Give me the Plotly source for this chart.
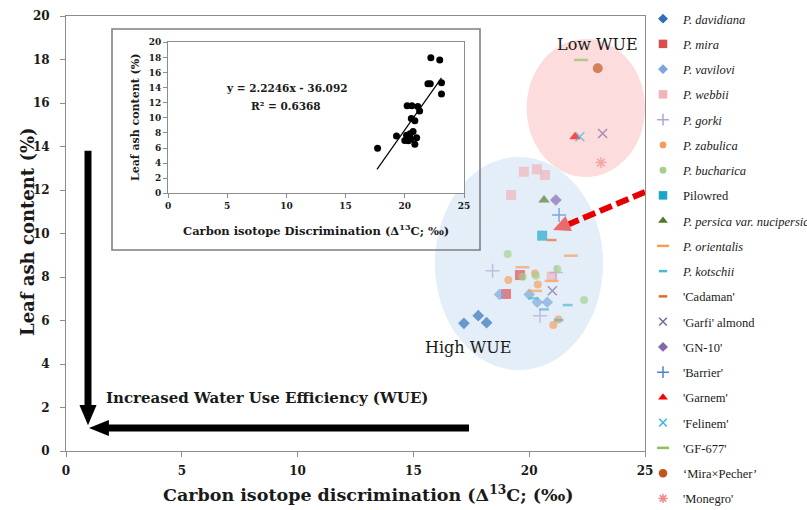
import plotly.graph_objects as go

# ---------------- data ----------------
davidiana_x = [17.18, 17.80, 18.16]
davidiana_y = [5.87, 6.22, 5.90]
mira_x = [19.60, 19.00]
mira_y = [8.09, 7.22]
vavilovi_x = [18.72, 20.00, 20.35, 20.78]
vavilovi_y = [7.20, 7.20, 6.84, 6.84]
webbii_x = [19.77, 20.33, 20.68, 19.22, 20.97]
webbii_y = [12.84, 12.95, 12.69, 11.77, 8.01]
gorki_x = [18.42, 20.47, 21.16]
gorki_y = [8.29, 6.22, 8.21]
zabulica_x = [19.10, 20.25, 20.37, 21.04, 21.26]
zabulica_y = [7.86, 8.16, 7.66, 5.79, 6.05]
bucharica_x = [19.07, 21.21, 19.72, 20.29, 22.37]
bucharica_y = [9.06, 8.37, 8.01, 8.06, 6.94]
pilowred_x = [20.56]
pilowred_y = [9.90]
nucipersica_x = [20.64]
nucipersica_y = [11.54]
orientalis_x = [21.80, 19.71, 20.25, 20.97]
orientalis_y = [8.98, 8.45, 7.36, 7.82]
kotschii_x = [20.64, 21.66, 21.27, 20.18]
kotschii_y = [6.51, 6.71, 6.02, 7.02]
cadaman_x = [20.97]
cadaman_y = [9.70]
garfi_x = [21.00, 23.17]
garfi_y = [7.37, 14.60]
gn10_x = [21.15]
gn10_y = [11.54]
barrier_x = [21.29]
barrier_y = [10.85]
garnem_x = [21.98]
garnem_y = [14.45]
felinem_x = [22.19]
felinem_y = [14.45]
gf677_x = [22.24]
gf677_y = [17.98]
mirapecher_x = [22.96]
mirapecher_y = [17.60]
monegro_x = [23.10]
monegro_y = [13.26]

series_names = [
    "<i>P. davidiana</i>", "<i>P. mira</i>", "<i>P. vavilovi</i>", "<i>P. webbii</i>",
    "<i>P. gorki</i>", "<i>P. zabulica</i>", "<i>P. bucharica</i>", "Pilowred",
    "<i>P. persica var. nucipersica</i>", "<i>P. orientalis</i>", "<i>P. kotschii</i>",
    "'Cadaman'", "'Garfi' almond", "'GN-10'", "'Barrier'", "'Garnem'", "'Felinem'",
    "'GF-677'", "\u2018Mira\u00d7Pecher\u2019", "'Monegro'",
]
series_x = [davidiana_x, mira_x, vavilovi_x, webbii_x, gorki_x, zabulica_x, bucharica_x,
            pilowred_x, nucipersica_x, orientalis_x, kotschii_x, cadaman_x, garfi_x, gn10_x,
            barrier_x, garnem_x, felinem_x, gf677_x, mirapecher_x, monegro_x]
series_y = [davidiana_y, mira_y, vavilovi_y, webbii_y, gorki_y, zabulica_y, bucharica_y,
            pilowred_y, nucipersica_y, orientalis_y, kotschii_y, cadaman_y, garfi_y, gn10_y,
            barrier_y, garnem_y, felinem_y, gf677_y, mirapecher_y, monegro_y]

# inset (means) data
inset_x = [17.7, 19.3, 20.0, 20.2, 20.6, 21.1, 21.25, 20.55, 20.85, 20.7, 20.45, 20.15,
           20.4, 21.0, 20.5, 20.85, 20.3, 21.95, 22.15, 23.1, 23.1, 22.2, 22.95]
inset_y = [5.96, 7.6, 7.0, 11.6, 11.6, 11.5, 10.9, 9.9, 9.6, 8.2, 7.9, 7.7,
           7.5, 7.35, 7.2, 6.5, 6.95, 14.5, 14.5, 14.65, 13.15, 17.95, 17.65]
trend_slope = 2.2246
trend_intercept = -36.092
trend_x = [17.65, 23.1]

x_ticks = [0, 5, 10, 15, 20, 25]
y_ticks = [0, 2, 4, 6, 8, 10, 12, 14, 16, 18, 20]

# ---------------- styles ----------------
styles = [
    dict(symbol="diamond", color="#2F6EBA", size=9),
    dict(symbol="square", color="#DC4B50", size=10),
    dict(symbol="diamond", color="#7BA7DC", size=9),
    dict(symbol="square", color="#F2B3B8", size=10),
    dict(symbol="cross-thin-open", color="#B3A3D2", size=10, lw=1.5),
    dict(symbol="circle", color="#F59E5C", size=8),
    dict(symbol="circle", color="#A6CF8A", size=8),
    dict(symbol="square", color="#1AA6C8", size=10),
    dict(symbol="triangle-up", color="#4E7A2A", size=10),
    dict(symbol="line-ew-open", color="#F79E55", size=10, lw=2.5),
    dict(symbol="line-ew-open", color="#4DB8D4", size=7, lw=2.5),
    dict(symbol="line-ew-open", color="#E06A28", size=7, lw=2.5),
    dict(symbol="x-thin-open", color="#7D66A0", size=9, lw=1.5),
    dict(symbol="diamond", color="#8566AE", size=9),
    dict(symbol="cross-thin-open", color="#4A86C8", size=10, lw=1.5),
    dict(symbol="triangle-up", color="#FF0000", size=10),
    dict(symbol="x-thin-open", color="#3CB4E6", size=9, lw=1.5),
    dict(symbol="line-ew-open", color="#8DBF5A", size=10, lw=2.5),
    dict(symbol="circle", color="#C0561A", size=10),
    dict(symbol="asterisk-open", color="#F08A8A", size=9, lw=1.5),
]

def marker_of(st, opacity, scale=1.0):
    m = dict(symbol=st["symbol"], size=st["size"] * scale, opacity=opacity, color=st["color"])
    if st["symbol"].endswith("-open"):
        m["line"] = dict(color=st["color"], width=st.get("lw", 1.5))
    else:
        m["line"] = dict(width=0)
    return m

SERIF = "DejaVu Serif"
GRAY = "#8C8C8C"
TXT = "#1a1a1a"

fig = go.Figure()

# data marks (faded, as in reference)
for name, xs, ys, st in zip(series_names, series_x, series_y, styles):
    fig.add_trace(go.Scatter(x=xs, y=ys, mode="markers", marker=marker_of(st, 0.68),
                             showlegend=False, hoverinfo="skip"))
# legend entries (full colour)
for i, (name, st) in enumerate(zip(series_names, styles)):
    fig.add_trace(go.Scatter(x=[None], y=[None], mode="markers", name=name,
                             marker=marker_of(st, 1.0, 0.85), legendgroup="g%d" % i))

# inset
fig.add_trace(go.Scatter(x=inset_x, y=inset_y, mode="markers", xaxis="x2", yaxis="y2",
                         marker=dict(color="black", size=7), showlegend=False))
fig.add_trace(go.Scatter(x=trend_x, y=[trend_slope * v + trend_intercept for v in trend_x],
                         mode="lines", xaxis="x2", yaxis="y2",
                         line=dict(color="black", width=1.2), showlegend=False))

W, H = 807, 510
L, R, T, B = 66, 645, 16, 451

def px(xp):
    return (xp - L) / (R - L)

def py(yp):
    return (B - yp) / (B - T)

shapes = [
    # ellipses
    dict(type="circle", xref="x", yref="y", x0=19.89, x1=25.0, y0=12.6, y1=18.94,
         fillcolor="#FDDCDD", line=dict(width=0), layer="below"),
    dict(type="circle", xref="x", yref="y", x0=15.93, x1=23.19, y0=3.72, y1=13.52,
         fillcolor="#E3EEF8", line=dict(width=0), layer="below"),
    # inset outer frame
    dict(type="rect", xref="paper", yref="paper", x0=px(112), x1=px(480), y0=py(250), y1=py(29),
         line=dict(color="#7F7F7F", width=1.6), fillcolor="rgba(0,0,0,0)"),
    # black arrows
    dict(type="line", xref="x", yref="y", x0=0.95, x1=0.95, y0=13.8, y1=2.0,
         line=dict(color="black", width=7)),
    dict(type="path", xref="x", yref="y", path="M 0.58,2.12 L 1.32,2.12 L 0.95,1.18 Z",
         fillcolor="black", line=dict(width=0)),
    dict(type="line", xref="x", yref="y", x0=17.4, x1=1.75, y0=1.06, y1=1.06,
         line=dict(color="black", width=7)),
    dict(type="path", xref="x", yref="y", path="M 1.85,1.43 L 1.85,0.69 L 0.99,1.06 Z",
         fillcolor="black", line=dict(width=0)),
    # red dashed arrow
    dict(type="line", xref="x", yref="y", x0=25.0, y0=11.91, x1=21.71, y1=10.43,
         line=dict(color="#E60000", width=6, dash="13px,5px")),
    dict(type="path", xref="x", yref="y", path="M 21.84,10.12 L 21.57,10.80 L 21.03,10.16 Z",
         fillcolor="#EA6A6E", line=dict(width=0)),
]

C = dict(xanchor="center", yanchor="middle", showarrow=False)
annotations = [
    dict(text="<b>Carbon isotope discrimination (Δ<sup>13</sup>C; (‰)</b>", xref="paper", yref="paper",
         x=px(368), y=py(493), font=dict(family=SERIF, size=17.5, color=TXT), **C),
    dict(text="<b>Leaf ash content (%)</b>", xref="paper", yref="paper", textangle=-90,
         x=px(27), y=py(232), font=dict(family=SERIF, size=18, color=TXT), **C),
    dict(text="<b>Carbon isotope Discrimination (Δ<sup>13</sup>C; ‰)</b>", xref="paper", yref="paper",
         x=px(316), y=py(230), font=dict(family=SERIF, size=11.5, color=TXT), **C),
    dict(text="<b>Leaf ash content (%)</b>", xref="paper", yref="paper", textangle=-90,
         x=px(135), y=py(118), font=dict(family=SERIF, size=11, color=TXT), **C),
    dict(text="<b>y = 2.2246x - 36.092</b>", xref="x2", yref="y2", x=10.04, y=13.95,
         font=dict(family=SERIF, size=10.5, color=TXT), **C),
    dict(text="<b>R² = 0.6368</b>", xref="x2", yref="y2", x=10.0, y=11.56,
         font=dict(family=SERIF, size=10.5, color=TXT), **C),
    dict(text="<b>Increased Water Use Efficiency (WUE)</b>", xref="x", yref="y", x=8.7, y=2.44,
         font=dict(family=SERIF, size=15, color=TXT), **C),
    dict(text="Low WUE", xref="x", yref="y", x=22.97, y=18.71,
         font=dict(family=SERIF, size=16, color=TXT), **C),
    dict(text="High WUE", xref="x", yref="y", x=17.36, y=4.74,
         font=dict(family=SERIF, size=16, color=TXT), **C),
]

fig.update_layout(
    width=W, height=H,
    margin=dict(l=L, r=W - R, t=T, b=H - B, pad=0, autoexpand=False),
    paper_bgcolor="white", plot_bgcolor="white",
    showlegend=True,
    legend=dict(x=px(643), y=py(4), xanchor="left", yanchor="top",
                font=dict(family="Liberation Serif", size=12.5, color=TXT),
                tracegroupgap=6, itemwidth=30, bgcolor="rgba(0,0,0,0)",
                traceorder="grouped", maxheight=505),
    xaxis=dict(range=[0, 25], tickvals=x_ticks, showgrid=False, zeroline=False,
               showline=True, linecolor=GRAY, linewidth=1, mirror=True,
               ticks="outside", ticklen=5, tickcolor=GRAY, ticklabelstandoff=4,
               tickfont=dict(family=SERIF, size=12, color=TXT, weight="bold")),
    yaxis=dict(range=[0, 20], tickvals=y_ticks, showgrid=False, zeroline=False,
               showline=True, linecolor=GRAY, linewidth=1, mirror=True,
               ticks="outside", ticklen=5, tickcolor=GRAY, ticklabelstandoff=8,
               tickfont=dict(family=SERIF, size=12, color=TXT, weight="bold")),
    xaxis2=dict(domain=[px(168), px(464)], anchor="y2", range=[0, 25], tickvals=x_ticks,
                showgrid=False, zeroline=False, showline=True, linecolor=GRAY, mirror=True,
                ticks="outside", ticklen=4, tickcolor=GRAY,
                tickfont=dict(family=SERIF, size=9, color=TXT, weight="bold")),
    yaxis2=dict(domain=[py(193.3), py(42.3)], anchor="x2", range=[0, 20], tickvals=y_ticks,
                showgrid=False, zeroline=False, showline=True, linecolor=GRAY, mirror=True,
                ticks="outside", ticklen=4, tickcolor=GRAY,
                tickfont=dict(family=SERIF, size=9, color=TXT, weight="bold")),
    shapes=shapes,
    annotations=annotations,
)

fig.write_html("out.html", config={"displayModeBar": False},
               post_script="document.body.style.margin='0';")
